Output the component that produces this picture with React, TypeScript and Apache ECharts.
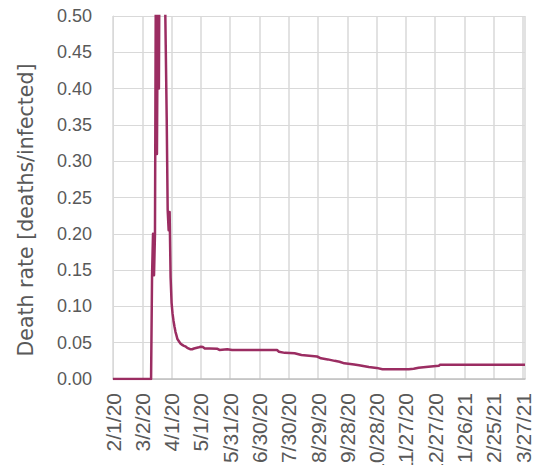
import React, { useEffect, useRef } from "react";
import * as echarts from "echarts";

// Daily death rate (deaths / infected), read at the dates where the curve changes.
const dates = [
  "2/1/20", "3/11/20", "3/12/20", "3/13/20", "3/14/20", "3/15/20", "3/16/20",
  "3/17/20", "3/18/20", "3/19/20", "3/20/20", "3/21/20", "3/22/20", "3/23/20",
  "3/24/20", "3/25/20", "3/26/20", "3/27/20", "3/28/20", "3/29/20", "3/30/20",
  "3/31/20", "4/1/20", "4/2/20", "4/3/20", "4/4/20", "4/5/20", "4/6/20",
  "4/7/20", "4/8/20", "4/9/20", "4/10/20", "4/11/20", "4/12/20", "4/13/20",
  "4/15/20", "4/17/20", "4/20/20", "4/22/20", "4/24/20", "4/27/20", "4/29/20",
  "5/1/20", "5/3/20", "5/5/20", "5/10/20", "5/18/20", "5/20/20", "5/28/20",
  "6/2/20", "7/18/20", "7/20/20", "7/26/20", "8/5/20", "8/12/20", "8/20/20",
  "8/28/20", "9/1/20", "9/8/20", "9/15/20", "9/20/20", "9/25/20", "10/1/20",
  "10/5/20", "10/10/20", "10/20/20", "10/28/20", "11/3/20", "11/10/20",
  "11/20/20", "11/30/20", "12/5/20", "12/10/20", "12/20/20", "12/28/20",
  "12/31/20", "1/1/21", "2/1/21", "3/1/21", "3/29/21",
];

const deathRate = [
  0, 0, 0.143, 0.2, 0.143, 0.2, 0.6,
  0.31, 0.55, 0.4, 0.7, 0.9, 1.0, 0.85,
  0.75, 0.56, 0.46, 0.36, 0.233, 0.205, 0.23,
  0.14, 0.105, 0.09, 0.08, 0.072, 0.065, 0.06,
  0.055, 0.053, 0.051, 0.049, 0.048, 0.047, 0.046,
  0.045, 0.043, 0.041, 0.041, 0.042, 0.043, 0.0437,
  0.0445, 0.044, 0.042, 0.042, 0.0415, 0.04, 0.041,
  0.04, 0.04, 0.0376, 0.036, 0.0354, 0.033, 0.032,
  0.031, 0.0285, 0.027, 0.025, 0.0238, 0.0216, 0.0207,
  0.02, 0.019, 0.0165, 0.0153, 0.0135, 0.0133,
  0.0133, 0.0133, 0.014, 0.0155, 0.017, 0.018,
  0.0183, 0.0197, 0.0197, 0.0198, 0.0197,
];

const startDate = "2/1/20";
const endDate = "3/29/21";
const labelStepDays = 30;

const DAY_MS = 86400000;

function toUTC(s: string): number {
  const [m, d, y] = s.split("/").map(Number);
  return Date.UTC(2000 + y, m - 1, d);
}

const t0 = toUTC(startDate);
const dayIndex = (s: string) => Math.round((toUTC(s) - t0) / DAY_MS);

function dayLabel(day: number): string {
  const dt = new Date(t0 + day * DAY_MS);
  return `${dt.getUTCMonth() + 1}/${dt.getUTCDate()}/${dt.getUTCFullYear() % 100}`;
}

const FONT = "'Liberation Sans', Arial, sans-serif";
const TITLE_FONT = "'DejaVu Sans', sans-serif";
const TEXT_COLOR = "#595959";

export default function App() {
  const ref = useRef<HTMLDivElement>(null);

  useEffect(() => {
    if (!ref.current) return;
    const chart = echarts.init(ref.current, null, { renderer: "svg" });
    const points = dates.map((d, i) => [dayIndex(d), deathRate[i]]);

    chart.setOption({
      animation: false,
      backgroundColor: "#ffffff",
      grid: {
        left: 113,
        right: 11,
        top: 16,
        bottom: 86,
        containLabel: false,
        outerBoundsMode: "none",
      },
      xAxis: {
        type: "value",
        min: 0,
        max: dayIndex(endDate),
        interval: labelStepDays,
        axisLine: { show: true, onZero: false, lineStyle: { color: "#bfbfbf", width: 1.5 } },
        axisTick: { show: false },
        splitLine: { show: true, lineStyle: { color: "#d9d9d9", width: 1.5 } },
        axisLabel: {
          rotate: 90,
          margin: 14,
          showMaxLabel: false,
          hideOverlap: false,
          color: TEXT_COLOR,
          fontFamily: FONT,
          fontSize: 21,
          formatter: (v: number) => (v % labelStepDays === 0 ? dayLabel(v) : ""),
        },
      },
      yAxis: {
        type: "value",
        min: 0,
        max: 0.5,
        interval: 0.05,
        axisLine: { show: true, lineStyle: { color: "#d9d9d9", width: 1 } },
        axisTick: { show: false },
        splitLine: { show: true, lineStyle: { color: "#d9d9d9", width: 1 } },
        axisLabel: {
          margin: 21,
          color: TEXT_COLOR,
          fontFamily: FONT,
          fontSize: 18,
          formatter: (v: number) => v.toFixed(2),
        },
      },
      graphic: [
        {
          type: "text",
          x: 26,
          y: 210,
          rotation: Math.PI / 2,
          style: {
            text: "Death rate [deaths/infected]",
            fill: TEXT_COLOR,
            font: `20.5px ${TITLE_FONT}`,
            align: "center",
            verticalAlign: "middle",
          },
        },
      ],
      series: [
        {
          type: "line",
          data: points,
          showSymbol: false,
          clip: true,
          lineStyle: { color: "#9b2d62", width: 2.5, join: "round" },
          itemStyle: { color: "#9b2d62" },
        },
      ],
    });

    return () => chart.dispose();
  }, []);

  return (
    <div
      ref={ref}
      style={{ position: "fixed", left: 0, top: 0, width: 536, height: 465, overflow: "hidden" }}
    />
  );
}
